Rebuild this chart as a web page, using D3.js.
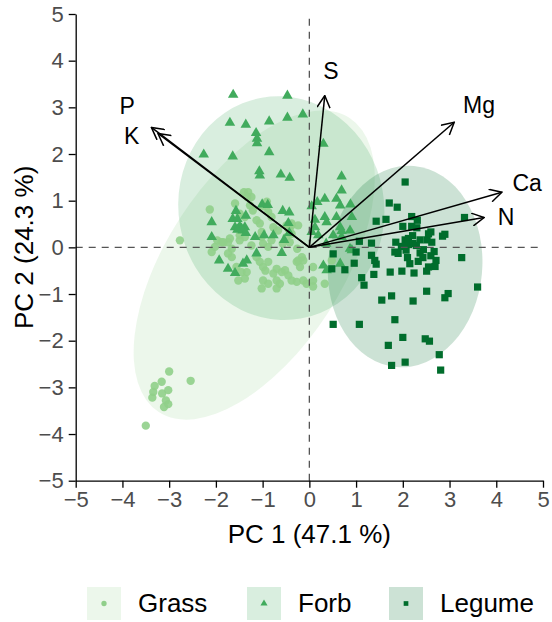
<!DOCTYPE html>
<html>
<head>
<meta charset="utf-8">
<script src="https://cdn.jsdelivr.net/npm/d3@7"></script>
<style>
  body { margin: 0; background: #fff; }
  svg { font-family: "Liberation Sans", Arial, sans-serif; }
</style>
</head>
<body>
<svg></svg>
<script>
const svgWidth = 552
const svgHeight = 622

// tick values shared by both axes
const ticks = [-5, -4, -3, -2, -1, 0, 1, 2, 3, 4, 5]

const groups = ["Grass", "Forb", "Legume"]

// scores
const grassX = [-1.40, -1.31, -1.24, -1.33, -0.91, -0.99, -1.59, -2.13, -1.27, -1.21, -0.88, -0.81, -0.38, -0.45, -1.49, -1.38, -1.49, -1.02, -1.02, -1.88, -1.74, -1.66, -2.77, -2.09, -2.02, -1.74, -1.66, -1.24, -0.99, -0.88, -0.81, -0.49, -0.38, -0.24, -0.16, -0.20, -1.13, -1.06, -0.99, -0.88, -0.70, -0.59, -0.52, -0.77, -1.56, -1.45, -1.34, -1.52, -1.38, -0.99, -0.88, -0.70, -0.63, -0.38, -0.27, -0.13, -0.06, 0.08, -1.02, -0.70, -0.57, -0.42, -0.26, -0.27, -0.13, -0.38, -0.24, 0.08, 0.33, 0.48, 0.08, -1.49, -1.38, -1.13, -1.06, -0.77, -0.67, -0.49, -0.42, -1.97, -1.84, -1.70, -0.94, -0.45, -3.00, -3.16, -3.31, -3.34, -3.36, -3.15, -3.02, -3.07, -3.02, -3.11, -2.54, -3.50]
const grassY = [1.18, 1.18, 1.08, 1.08, 0.98, 0.88, 0.94, 0.81, 0.90, 0.79, 0.76, 0.65, 0.51, 0.40, 0.26, 0.22, 0.15, 0.33, 0.22, 0.11, 0.11, -0.03, 0.15, -0.10, 0.01, -0.13, -0.21, 0.04, 0.08, 0.01, 0.15, 0.22, 0.29, -0.28, -0.21, -0.42, -0.21, -0.31, -0.42, -0.31, -0.46, -0.53, -0.49, -0.56, -0.42, -0.53, -0.53, -0.71, -0.67, -0.71, -0.78, -0.71, -0.78, -0.71, -0.74, -0.71, -0.78, -0.71, -0.88, -0.88, 0.08, 0.11, -0.03, -0.31, -0.28, 0.47, 0.47, -0.84, -0.78, -0.28, -0.42, 0.72, 0.65, 0.58, 0.51, 0.43, 0.36, 0.47, 0.36, 0.15, 0.11, 0.19, -0.50, -0.60, -2.66, -2.88, -2.97, -3.10, -3.22, -3.13, -3.06, -3.28, -3.36, -3.42, -2.86, -3.82]

const forbX = [-1.63, -0.47, -1.70, -1.36, -0.86, -0.47, -0.14, -1.14, -1.12, -1.12, -2.26, -1.64, -0.86, -1.07, -1.06, -0.61, -0.42, -1.01, -0.89, -0.57, -0.43, -1.57, -1.64, -1.54, -2.09, -1.49, -1.43, -1.38, -0.45, -2.09, -1.16, -0.97, -0.77, -0.54, 0.30, 0.69, 0.69, 0.33, 0.58, 0.17, 0.05, 0.33, 0.37, 0.12, 0.66, 0.91, 0.66, -1.36, -1.59, -1.45, -1.54, -1.36, -0.43, 0.91, 0.69, -1.93, -1.74, -1.59, -1.42, -1.34, -1.13, -0.59, 0.30, 0.37, 0.36, 0.88, 0.12, 0.58, 0.69, 0.05, 0.19, 0.51, 0.87, 0.87, 0.66]
const forbY = [3.27, 3.25, 2.67, 2.63, 2.70, 2.78, 2.85, 2.45, 2.33, 2.23, 1.99, 1.95, 2.04, 1.63, 1.54, 1.56, 1.49, 0.92, 0.91, 0.78, 0.75, 0.78, 0.61, 0.61, 0.54, 0.45, 0.36, 0.43, 0.52, 0.22, 0.22, 0.26, 0.26, 0.16, 2.22, 1.52, 1.22, 1.04, 1.04, 0.97, 0.88, 0.65, 0.54, 0.43, 0.43, 0.65, 0.90, 0.68, 0.43, 0.40, 0.38, 0.31, 0.31, -0.06, 0.22, -0.28, -0.46, -0.55, -0.35, -0.28, -0.13, -0.12, -0.39, -0.49, 0.08, 0.92, 0.59, 0.65, 0.35, 0.33, 0.26, 0.26, 0.36, -0.03, -0.35]

const legumeX = [2.05, 1.71, 1.88, 1.43, 1.64, 2.00, 2.19, 2.31, 2.19, 2.30, 3.32, 2.60, 2.85, 2.90, 1.07, 1.33, 1.85, 2.05, 2.12, 2.12, 2.22, 2.37, 2.52, 2.62, 1.83, 1.90, 2.07, 2.10, 2.37, 2.43, 2.44, 2.67, 2.71, 2.69, 3.26, 0.51, 1.33, 1.40, 1.43, 0.96, 0.76, 0.48, 2.55, 2.51, 1.73, 1.98, 2.24, 1.38, 1.12, 1.17, 3.60, 2.51, 2.97, 2.90, 1.76, 1.55, 2.22, 0.51, 1.07, 1.83, 2.00, 2.48, 2.57, 1.69, 2.78, 2.05, 1.76, 2.81, 1.00, 2.21, 2.55, 2.29, 1.97, 2.15, 2.33, 2.60]
const legumeY = [1.40, 0.95, 0.86, 0.56, 0.60, 0.45, 0.66, 0.58, 0.45, 0.42, 0.64, 0.33, 0.24, 0.28, 0.13, 0.09, 0.11, 0.16, 0.19, 0.06, 0.08, 0.16, 0.16, 0.11, -0.10, -0.13, -0.06, -0.22, -0.12, -0.22, -0.05, -0.09, -0.28, -0.41, -0.22, -0.14, -0.17, -0.28, -0.36, -0.34, -0.48, -0.46, -0.42, -0.51, -0.53, -0.51, -0.55, -0.58, -0.65, -0.81, -0.85, -0.94, -0.99, -1.08, -1.04, -1.13, -1.15, -1.65, -1.65, -1.55, -1.93, -1.96, -2.01, -2.10, -2.30, -2.46, -2.53, -2.63, -0.10, 0.25, 0.29, 0.04, 0.02, -0.35, -0.30, -0.18]

// concentration ellipses: centre, semi axes, angle of the long axis (deg)
const ellipseCx = [-1.18, -0.60, 2.05]
const ellipseCy = [-0.38, 0.84, -0.41]
const ellipseA = [3.75, 2.40, 2.16]
const ellipseB = [1.88, 2.20, 1.65]
const ellipseAngle = [57, 100, 85]

// variable loadings (arrow tips) and label spots
const varNames = ["P", "K", "S", "Mg", "Ca", "N"]
const varX = [-3.38, -3.24, 0.33, 3.10, 4.12, 3.74]
const varY = [2.57, 2.44, 3.25, 2.68, 1.18, 0.64]
const varLabelX = [-3.90, -3.80, 0.46, 3.63, 4.66, 4.21]
const varLabelY = [3.03, 2.38, 3.77, 3.06, 1.37, 0.64]

const pointColors = ["#90cf8a", "#41ab5d", "#006d2c"]
const fillColors = ["#a1d99b", "#41ab5d", "#006d2c"]
const symbols = [d3.symbolCircle, d3.symbolTriangle, d3.symbolSquare]
const symbolSizes = [55, 48, 52]

const svg = d3.select("svg")
  .attr("width", svgWidth)
  .attr("height", svgHeight)

const xScale = d3.scaleLinear().domain([-5, 5]).range([75.7, 543])
const yScale = d3.scaleLinear().domain([-5, 5]).range([480.7, 14])
const unit = xScale(1) - xScale(0)

// ellipses
const ellipseGroup = svg.append("g")
groups.forEach((g, i) => {
  ellipseGroup.append("ellipse")
    .attr("transform", `translate(${xScale(ellipseCx[i])},${yScale(ellipseCy[i])}) rotate(${-ellipseAngle[i]})`)
    .attr("rx", ellipseA[i] * unit)
    .attr("ry", ellipseB[i] * unit)
    .attr("fill", fillColors[i])
    .attr("fill-opacity", 0.2)
})

// points
const groupData = [
  grassX.map((d, i) => [d, grassY[i]]),
  forbX.map((d, i) => [d, forbY[i]]),
  legumeX.map((d, i) => [d, legumeY[i]])
]
const pointGroup = svg.append("g")
groupData.forEach((data, gi) => {
  pointGroup.selectAll(`.pt-${gi}`)
    .data(data)
    .enter()
    .append("path")
    .attr("d", d3.symbol().type(symbols[gi]).size(symbolSizes[gi]))
    .attr("transform", (d) => `translate(${xScale(d[0])},${yScale(d[1])})`)
    .attr("fill", pointColors[gi])
    .attr("fill-opacity", gi === 0 ? 0.9 : 1)
})

// reference lines at zero
svg.append("line")
  .attr("x1", xScale(-5)).attr("x2", xScale(5))
  .attr("y1", yScale(0)).attr("y2", yScale(0))
  .attr("stroke", "#555").attr("stroke-width", 1.3)
  .attr("stroke-dasharray", "7,6")
svg.append("line")
  .attr("x1", xScale(0)).attr("x2", xScale(0))
  .attr("y1", yScale(-5)).attr("y2", yScale(5))
  .attr("stroke", "#555").attr("stroke-width", 1.3)
  .attr("stroke-dasharray", "7,6")

// arrows
svg.append("defs").append("marker")
  .attr("id", "head")
  .attr("markerUnits", "userSpaceOnUse")
  .attr("viewBox", "0 0 14 14")
  .attr("markerWidth", 14)
  .attr("markerHeight", 14)
  .attr("refX", 13)
  .attr("refY", 7)
  .attr("orient", "auto")
  .append("path")
  .attr("d", "M1,0.5 L13,7 L1,13.5")
  .attr("fill", "none")
  .attr("stroke", "#000")
  .attr("stroke-width", 1.5)

const arrowGroup = svg.append("g")
arrowGroup.selectAll(".arrow")
  .data(varNames)
  .enter()
  .append("line")
  .attr("x1", xScale(0))
  .attr("y1", yScale(0))
  .attr("x2", (d, i) => xScale(varX[i]))
  .attr("y2", (d, i) => yScale(varY[i]))
  .attr("stroke", "#000")
  .attr("stroke-width", 1.5)
  .attr("marker-end", "url(#head)")

arrowGroup.selectAll(".arrow-label")
  .data(varNames)
  .enter()
  .append("text")
  .attr("x", (d, i) => xScale(varLabelX[i]))
  .attr("y", (d, i) => yScale(varLabelY[i]))
  .attr("text-anchor", "middle")
  .attr("dominant-baseline", "central")
  .attr("font-size", 23)
  .text((d) => d)

// axes
const xAxis = svg.append("g")
  .attr("transform", `translate(0,${yScale(-5)})`)
  .call(d3.axisBottom(xScale).tickValues(ticks).tickSize(7).tickPadding(4).tickSizeOuter(0))
const yAxis = svg.append("g")
  .attr("transform", `translate(${xScale(-5)},0)`)
  .call(d3.axisLeft(yScale).tickValues(ticks).tickSize(7).tickPadding(5).tickSizeOuter(0))

;[xAxis, yAxis].forEach((ax) => {
  ax.select(".domain").attr("stroke", "#000").attr("stroke-width", 1.3)
  ax.selectAll(".tick line").attr("stroke", "#000").attr("stroke-width", 1.3)
  ax.selectAll(".tick text")
    .attr("font-size", 22)
    .attr("fill", "#4d4d4d")
    .attr("font-family", "Liberation Sans, Arial, sans-serif")
    .text((d) => d < 0 ? "\u2212" + Math.abs(d) : d)
})

svg.append("text")
  .text("PC 1 (47.1 %)")
  .attr("x", xScale(0))
  .attr("y", 543)
  .attr("text-anchor", "middle")
  .attr("font-size", 26)

svg.append("text")
  .text("PC 2 (24.3 %)")
  .attr("transform", `translate(33,${yScale(0)}) rotate(-90)`)
  .attr("text-anchor", "middle")
  .attr("font-size", 26)

// legend
const legendKeyX = [87, 247, 389]
const legendGroup = svg.append("g")
groups.forEach((g, i) => {
  legendGroup.append("rect")
    .attr("x", legendKeyX[i])
    .attr("y", 587)
    .attr("width", 34)
    .attr("height", 33)
    .attr("fill", fillColors[i])
    .attr("fill-opacity", 0.2)
  legendGroup.append("path")
    .attr("d", d3.symbol().type(symbols[i]).size(22))
    .attr("transform", `translate(${legendKeyX[i] + 17},${603.5})`)
    .attr("fill", pointColors[i])
  legendGroup.append("text")
    .text(g)
    .attr("x", legendKeyX[i] + 51)
    .attr("y", 612)
    .attr("font-size", 26)
})
</script>
</body>
</html>
